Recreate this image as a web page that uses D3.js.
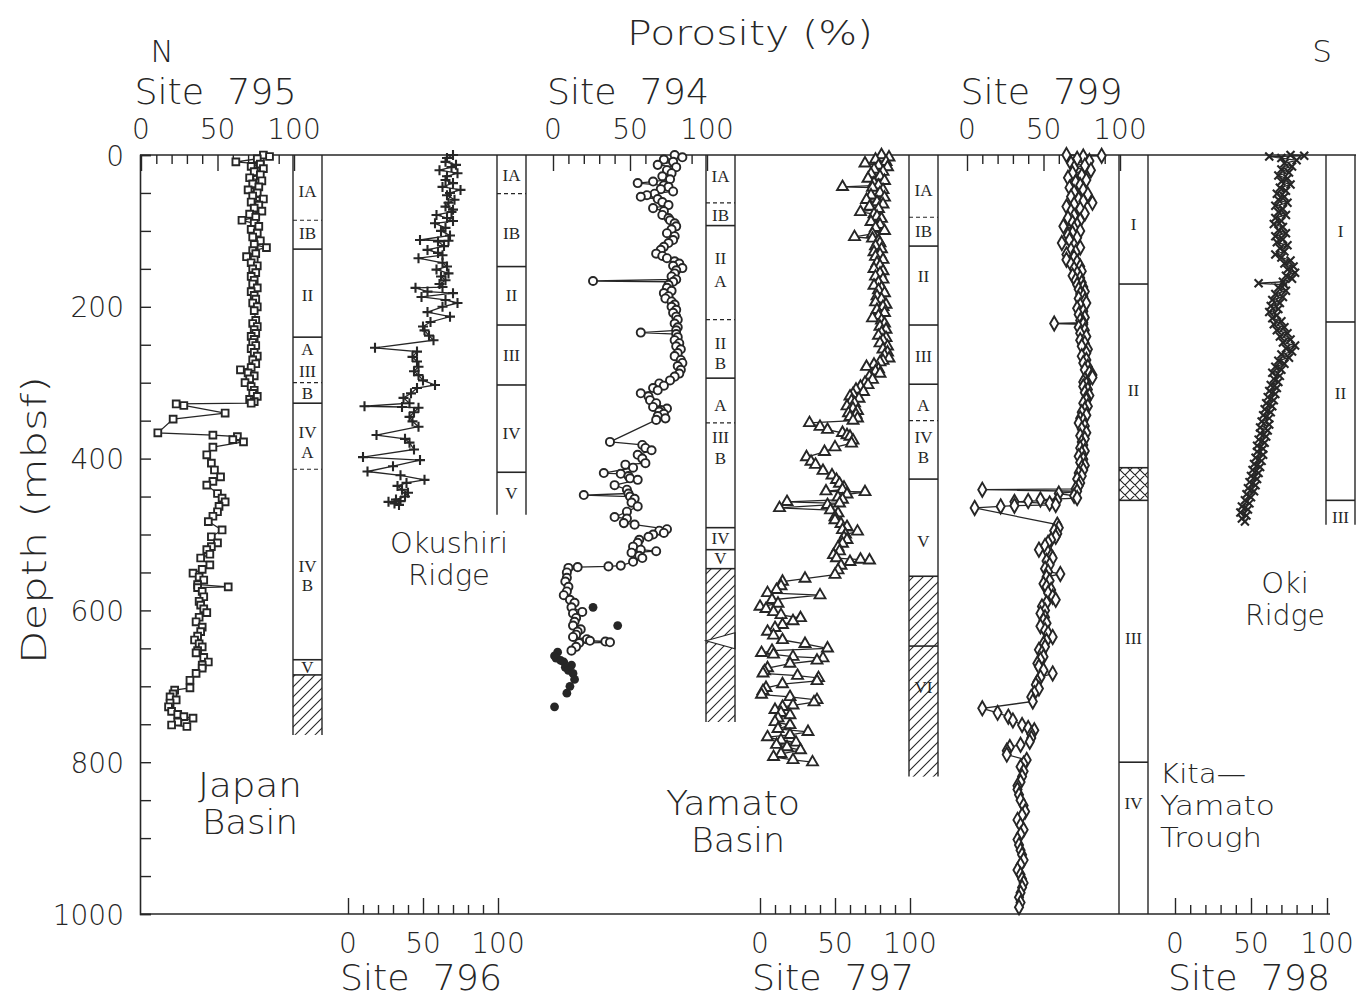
<!DOCTYPE html>
<html><head><meta charset="utf-8">
<script src="https://cdn.jsdelivr.net/npm/d3@7"></script>
<style>body{margin:0;background:#fff} text{white-space:pre}</style>
</head><body>
<svg id="c" width="1367" height="998"></svg>
<script>
// ---------------- DATA ----------------
const depthTickValues = [0,50,100,150,200,250,300,350,400,450,500,550,600,650,700,750,800,850,900,950,1000];
const depthLabelValues = [0,200,400,600,800,1000];
const porTickValues = [0,10,20,30,40,50,60,70,80,90,100];
const porLabelValues = [0,50,100];

// [depth mbsf, porosity %]
const site795 = [[0,80],[2,84],[5,76],[9,62],[12,78],[15,72],[18,80],[22,74],[26,78],[30,71],[34,79],[38,73],[42,77],[46,70],[50,76],[54,73],[58,80],[62,72],[66,77],[70,74],[74,79],[78,71],[82,75],[86,66],[90,74],[94,77],[98,72],[103,76],[108,73],[113,78],[118,74],[122,82],[126,73],[130,75],[134,69],[138,74],[142,72],[146,76],[150,73],[155,75],[160,72],[165,74],[170,73],[175,76],[180,72],[185,74],[190,75],[195,73],[200,76],[205,74],[218,75],[222,73],[226,76],[230,74],[235,75],[239,72],[243,74],[247,73],[251,75],[255,72],[260,74],[265,76],[270,73],[275,75],[280,72],[283,65],[287,70],[291,74],[295,71],[300,68],[305,72],[310,74],[314,73],[318,76],[322,71],[325,74],[327,72],[328,23],[330,28],[340,55],[348,21],[366,11],[369,47],[371,63],[375,60],[378,67],[385,47],[395,43],[406,46],[415,48],[424,52],[430,47],[435,43],[446,50],[452,53],[457,55],[463,51],[470,50],[476,47],[483,44],[494,53],[503,46],[511,50],[516,46],[520,43],[526,45],[531,39],[540,45],[546,40],[551,34],[556,38],[560,41],[566,37],[569,57],[570,37],[575,40],[582,41],[588,38],[593,39],[598,41],[603,43],[609,38],[615,36],[622,40],[628,39],[634,37],[639,35],[644,38],[648,40],[653,37],[656,36],[662,41],[668,44],[672,40],[676,40],[683,36],[692,32],[702,32],[705,22],[710,21],[714,19],[718,23],[722,19],[727,18],[733,20],[737,24],[740,28],[742,34],[747,24],[751,20],[753,30]];

const site796 = [[0,70],[4,66],[9,65],[13,72],[16,69],[20,61],[24,73],[28,66],[33,65],[37,70],[42,63],[46,75],[50,68],[53,66],[59,71],[63,67],[68,65],[72,70],[75,69],[79,59],[83,66],[87,70],[90,58],[96,65],[100,62],[106,68],[112,48],[113,67],[114,60],[120,64],[125,53],[129,60],[132,63],[136,47],[142,63],[147,66],[151,59],[156,67],[160,62],[165,65],[170,61],[174,63],[175,45],[180,53],[182,70],[187,49],[191,65],[195,73],[200,63],[207,53],[213,68],[220,55],[226,50],[231,51],[238,54],[244,57],[254,18],[259,46],[266,43],[272,46],[279,47],[285,44],[290,47],[297,50],[303,58],[307,46],[314,42],[320,37],[327,41],[331,11],[332,36],[333,47],[339,44],[345,41],[351,43],[358,47],[369,19],[374,38],[379,41],[388,44],[398,10],[402,48],[410,30],[417,13],[422,35],[428,51],[432,39],[436,33],[441,36],[445,40],[450,38],[454,32],[456,35],[457,27],[459,31],[461,34]];

const site794 = [[0,79],[3,84],[6,72],[9,78],[13,68],[16,80],[20,74],[24,77],[28,71],[32,76],[35,65],[37,55],[40,72],[42,75],[45,70],[48,78],[51,66],[53,61],[55,57],[58,68],[62,71],[66,75],[70,65],[74,72],[79,71],[83,75],[86,76],[90,79],[94,80],[98,77],[103,74],[107,79],[112,78],[116,75],[121,72],[125,70],[130,67],[133,71],[136,74],[140,79],[143,82],[146,78],[149,84],[152,80],[156,79],[160,77],[164,80],[166,26],[167,78],[171,75],[175,74],[179,77],[182,72],[186,75],[189,73],[193,77],[197,79],[200,77],[204,80],[208,78],[213,80],[217,81],[222,79],[227,81],[231,80],[234,57],[236,80],[240,81],[244,79],[248,82],[252,80],[256,83],[261,81],[265,79],[270,83],[274,84],[278,81],[283,83],[288,82],[292,79],[297,76],[301,69],[304,72],[307,65],[310,68],[314,57],[318,62],[323,63],[327,67],[332,65],[334,74],[336,70],[338,69],[341,72],[344,68],[347,73],[349,67],[378,37],[382,58],[386,60],[389,64],[395,55],[400,58],[406,60],[408,47],[412,52],[419,33],[420,44],[423,49],[426,50],[428,55],[435,40],[441,48],[446,49],[448,20],[450,50],[453,53],[458,51],[463,55],[470,48],[477,40],[479,48],[485,46],[487,53],[493,74],[495,69],[498,72],[500,65],[503,62],[507,56],[511,55],[516,52],[520,57],[522,67],[524,51],[528,56],[531,58],[536,52],[541,44],[542,36],[543,16],[544,10],[550,9],[557,9],[562,8],[569,10],[575,9],[580,7],[586,11],[590,14],[596,12],[602,19],[604,13],[610,15],[615,14],[620,13],[625,18],[628,16],[632,15],[635,13],[638,22],[640,24],[641,34],[642,37],[643,17],[648,15],[653,12]];
const site794Solid = [[596,26],[620,42],[655,3],[660,1],[663,2],[666,5],[668,7],[672,12],[675,8],[679,10],[683,13],[691,14],[700,11],[709,9],[727,1]];

const site797 = [[0,81],[3,86],[6,77],[9,84],[11,70],[14,79],[16,85],[19,76],[22,82],[25,74],[28,80],[31,72],[34,83],[37,76],[40,79],[42,55],[43,75],[46,82],[50,80],[53,74],[56,83],[59,71],[62,78],[65,82],[68,73],[71,79],[75,67],[78,76],[81,78],[84,81],[88,74],[92,80],[96,77],[100,83],[104,75],[108,63],[110,75],[113,79],[116,80],[120,77],[124,81],[128,76],[131,80],[134,77],[138,82],[142,78],[146,80],[150,76],[153,82],[156,80],[160,77],[164,82],[168,79],[172,76],[175,81],[178,79],[182,83],[186,78],[190,81],[194,77],[197,84],[200,82],[204,78],[208,83],[212,79],[215,75],[218,81],[222,83],[226,80],[230,84],[234,81],[238,79],[241,84],[244,82],[248,80],[252,85],[256,82],[260,85],[264,83],[268,86],[271,82],[273,80],[276,76],[279,71],[282,79],[285,77],[288,80],[292,73],[296,75],[300,70],[303,72],[305,67],[309,64],[312,69],[315,62],[318,60],[321,66],[324,61],[327,63],[331,58],[334,62],[337,65],[340,59],[342,64],[345,60],[347,65],[350,62],[353,33],[358,40],[362,45],[366,55],[369,58],[371,60],[376,62],[380,61],[385,50],[391,43],[398,31],[404,34],[408,37],[416,42],[422,48],[428,51],[433,53],[438,56],[441,55],[443,44],[444,70],[447,58],[451,52],[454,55],[457,18],[459,53],[461,45],[465,13],[468,47],[472,52],[477,50],[481,50],[486,54],[490,58],[494,55],[496,65],[500,57],[504,56],[507,58],[512,55],[517,52],[522,53],[527,49],[531,51],[533,67],[534,73],[536,60],[541,54],[547,52],[553,50],[558,30],[562,15],[568,14],[573,11],[577,5],[580,40],[586,8],[591,12],[595,0],[598,4],[602,9],[606,14],[610,27],[614,22],[619,15],[623,10],[628,5],[633,9],[639,15],[644,30],[650,45],[653,8],[656,1],[658,9],[661,22],[663,42],[666,38],[670,20],[676,5],[680,3],[683,2],[686,25],[689,39],[693,38],[697,15],[702,4],[706,2],[711,1],[714,20],[718,38],[721,36],[725,22],[727,15],[731,10],[735,14],[738,20],[742,12],[747,10],[751,20],[756,12],[760,32],[764,20],[767,5],[771,14],[774,24],[777,11],[780,18],[784,27],[789,14],[793,9],[797,22],[800,35]];

const site799 = [[0,65],[1,88],[2,76],[5,72],[8,80],[11,68],[14,77],[17,70],[20,81],[24,69],[27,75],[30,66],[33,78],[36,71],[40,74],[43,67],[46,76],[49,70],[52,79],[55,68],[58,73],[61,76],[63,82],[65,70],[68,65],[71,74],[74,68],[77,77],[80,70],[83,66],[86,74],[89,69],[92,72],[94,63],[97,70],[100,74],[103,69],[106,66],[109,72],[112,67],[116,62],[119,70],[122,74],[125,68],[128,71],[131,65],[135,70],[138,65],[141,72],[144,68],[147,74],[150,70],[153,75],[156,72],[159,69],[162,74],[165,71],[168,75],[171,72],[174,76],[177,73],[180,77],[183,74],[186,76],[189,73],[192,77],[195,78],[198,74],[202,72],[206,76],[210,73],[214,77],[218,74],[221,76],[222,57],[223,76],[227,73],[231,77],[235,74],[239,78],[244,74],[248,77],[252,75],[256,79],[261,78],[265,75],[270,78],[274,76],[279,79],[283,77],[287,80],[290,82],[293,82],[296,77],[299,76],[302,78],[305,76],[309,79],[313,77],[317,80],[320,78],[323,78],[327,76],[331,79],[335,77],[339,75],[343,78],[347,74],[350,76],[353,73],[357,77],[361,75],[366,78],[370,74],[374,77],[378,75],[382,76],[386,74],[390,77],[393,75],[397,73],[401,76],[405,74],[409,77],[412,75],[415,76],[419,73],[423,75],[427,72],[432,74],[436,73],[440,71],[441,10],[443,72],[446,60],[449,70],[452,72],[454,48],[455,59],[456,40],[457,31],[459,54],[461,58],[462,31],[463,22],[465,5],[487,59],[491,60],[495,57],[499,59],[503,58],[507,55],[511,53],[515,51],[520,47],[524,53],[528,55],[531,56],[535,52],[540,54],[545,51],[549,53],[552,61],[556,52],[561,54],[565,50],[569,52],[573,55],[577,53],[582,56],[586,58],[590,52],[595,49],[600,51],[604,48],[609,51],[613,50],[617,52],[621,48],[626,51],[630,53],[635,56],[640,52],[644,50],[648,51],[652,47],[656,49],[661,50],[665,48],[670,46],[674,47],[679,50],[683,56],[688,48],[694,46],[698,45],[703,47],[709,44],[714,42],[720,43],[729,10],[735,20],[740,27],[745,30],[751,36],[755,40],[758,44],[763,42],[768,42],[773,41],[777,35],[780,28],[785,26],[790,26],[797,39],[802,37],[806,35],[812,37],[819,36],[826,35],[831,33],[836,33],[843,34],[850,35],[857,37],[865,38],[870,36],[876,33],[883,35],[889,37],[895,35],[902,33],[909,34],[916,35],[922,36],[929,37],[935,35],[942,33],[948,35],[954,36],[959,37],[965,36],[972,35],[978,34],[985,35],[991,34]];

const site798 = [[0,76],[1,85],[2,62],[4,70],[7,80],[11,72],[15,77],[19,70],[23,75],[27,68],[31,74],[35,70],[39,76],[43,69],[47,73],[51,67],[55,72],[59,68],[63,74],[67,66],[71,71],[75,68],[79,73],[83,66],[87,70],[91,65],[95,71],[99,68],[103,73],[107,66],[111,71],[115,67],[119,74],[123,69],[127,72],[131,66],[135,70],[139,76],[143,72],[147,78],[151,74],[155,79],[159,73],[163,77],[167,71],[169,55],[171,72],[175,68],[179,73],[183,66],[187,71],[191,64],[195,69],[199,63],[203,68],[207,62],[211,67],[215,64],[219,70],[223,65],[227,72],[231,67],[235,74],[239,69],[243,76],[247,71],[251,79],[255,73],[259,77],[263,70],[267,75],[271,68],[275,72],[279,66],[283,70],[287,64],[291,69],[295,65],[299,68],[303,63],[307,67],[311,62],[315,66],[319,61],[323,65],[327,60],[331,64],[335,59],[339,63],[343,58],[347,62],[351,57],[355,62],[359,56],[363,61],[367,56],[371,60],[375,55],[379,59],[383,54],[387,58],[391,54],[395,58],[399,53],[403,57],[407,52],[411,56],[415,51],[419,55],[423,50],[427,54],[431,49],[435,53],[439,48],[443,52],[447,47],[451,50],[455,46],[459,49],[463,44],[467,48],[471,43],[475,47],[479,44],[483,46]];

// Lithologic units: boundaries [depth, isSubunit]
const units795 = [[86,true],[124,false],[240,false],[300,true],[327,false],[414,true],[665,false],[685,false]];
const labels795 = [["IA",47],["IB",103],["II",184],["A",256],["III",285],["B",313],["IV",365],["A",391],["IV",541],["B",567],["V",675]];
const units796 = [[51,true],[147,false],[224,false],[303,false],[418,false]];
const labels796 = [["IA",26],["IB",103],["II",184],["III",264],["IV",366],["V",445]];
const units794 = [[63,true],[93,false],[217,true],[294,false],[353,true],[491,false],[520,false],[545,false]];
const labels794 = [["IA",28],["IB",79],["II",136],["A",166],["II",248],["B",274],["A",329],["III",372],["B",399],["IV",505],["V",531]];
const units797 = [[82,true],[120,false],[224,false],[302,false],[350,true],[427,false],[555,false],[647,false]];
const labels797 = [["IA",46],["IB",100],["II",159],["III",265],["A",329],["IV",372],["B",398],["V",509],["VI",701]];
const units799 = [[170,false],[412,false],[455,false],[800,false]];
const labels799 = [["I",91],["II",310],["III",636],["IV",854]];
const units798 = [[220,false],[455,false]];
const labels798 = [["I",100],["II",314],["III",477]];

// ---------------- LAYOUT ----------------
const svg = d3.select("#c");
const ink = "#262626";
const sans = "'DejaVu Sans', sans-serif";
const serif = "'Liberation Serif', 'DejaVu Serif', serif";
const y = d3.scaleLinear().domain([0,1000]).range([155,914]);
const top0 = 155, bot0 = 914;

const defs = svg.append("defs");
const hp = defs.append("pattern").attr("id","hatch").attr("patternUnits","userSpaceOnUse").attr("width",10).attr("height",10);
hp.append("path").attr("d","M-2,2 L2,-2 M0,10 L10,0 M8,12 L12,8").attr("stroke",ink).attr("stroke-width",1.1);
const xp = defs.append("pattern").attr("id","xhatch").attr("patternUnits","userSpaceOnUse").attr("width",10).attr("height",10);
xp.append("path").attr("d","M-2,2 L2,-2 M0,10 L10,0 M8,12 L12,8 M-2,8 L2,12 M0,0 L10,10 M8,-2 L12,2").attr("stroke",ink).attr("stroke-width",1.1);

// frame
svg.append("line").attr("x1",140).attr("x2",1356).attr("y1",top0).attr("y2",top0).attr("stroke",ink).attr("stroke-width",1.6);
svg.append("line").attr("x1",140).attr("x2",1330).attr("y1",bot0).attr("y2",bot0).attr("stroke",ink).attr("stroke-width",1.6);

// left depth axis
const ax = svg.append("g").attr("transform","translate(140,0)")
  .call(d3.axisLeft(y).tickValues(depthTickValues).tickSize(-11).tickPadding(16)
     .tickFormat(d => depthLabelValues.includes(d) ? d : ""));
ax.select(".domain").attr("stroke",ink).attr("stroke-width",1.6);
ax.selectAll(".tick line").attr("stroke",ink).attr("stroke-width",1.4);
ax.selectAll(".tick text").attr("font-family",sans).attr("font-weight",300).attr("font-size",28).attr("fill",ink).attr("dy","0.36em");

svg.append("text").attr("transform","translate(46,520) rotate(-90)").attr("text-anchor","middle")
  .attr("font-family",sans).attr("font-weight",300).attr("font-size",34).attr("fill",ink)
  .attr("textLength",288).attr("lengthAdjust","spacingAndGlyphs").text("Depth (mbsf)");

const sites = [
  {name:"Site  795", data:site795, x0:141, x1:294, side:"top", colBottom:764, units:units795, labels:labels795, hatch:[685,764], marker:"square"},
  {name:"Site  796", data:site796, x0:348, x1:498, side:"bottom", colBottom:474, units:units796, labels:labels796, marker:"plus"},
  {name:"Site  794", data:site794, x0:553, x1:707, side:"top", colBottom:747, units:units794, labels:labels794, hatch:[545,747], wedge:640, marker:"circle"},
  {name:"Site  797", data:site797, x0:760, x1:910, side:"bottom", colBottom:819, units:units797, labels:labels797, hatch:[555,819], marker:"triangle"},
  {name:"Site  799", data:site799, x0:967, x1:1120, side:"top", colBottom:1000, units:units799, labels:labels799, xhatch:[412,455], marker:"diamond"},
  {name:"Site  798", data:site798, x0:1175, x1:1327, side:"bottom", colBottom:487, units:units798, labels:labels798, marker:"x"}
];

const markerPath = {
  square: d3.symbol(d3.symbolSquare, 46)(),
  circle: d3.symbol(d3.symbolCircle, 52)(),
  triangle: d3.symbol(d3.symbolTriangle, 52)(),
  diamond: d3.symbol(d3.symbolDiamond, 58)(),
  plus: "M-5,0H5M0,-5V5",
  x: "M-4,-4L4,4M-4,4L4,-4"
};

sites.forEach(s => {
  const x = d3.scaleLinear().domain([0,100]).range([s.x0, s.x1]);
  const cx0 = s.x1 - 1, cx1 = s.x1 + 28;
  const g = svg.append("g");
  const axisY = s.side === "top" ? top0 : bot0;
  const axFn = s.side === "top" ? d3.axisBottom(x) : d3.axisTop(x);
  const pa = g.append("g").attr("transform",`translate(0,${axisY})`)
    .call(axFn.tickValues(porTickValues).tickSize(9).tickFormat(""));
  pa.select(".domain").remove();
  pa.selectAll(".tick line").attr("stroke",ink).attr("stroke-width",1.4)
    .attr("y2", d => (s.side === "top" ? 1 : -1) * (d % 50 === 0 ? 16 : 9));
  const lblY = s.side === "top" ? 139 : 953;
  g.selectAll(".pl").data(porLabelValues).join("text")
    .attr("x", d => x(d)).attr("y", lblY).attr("text-anchor","middle")
    .attr("font-family",sans).attr("font-weight",300).attr("font-size",28).attr("fill",ink).text(d => d);
  g.append("text").attr("x",(s.x0+s.x1)/2 - 2).attr("y", s.side === "top" ? 104 : 990).attr("text-anchor","middle")
    .attr("font-family",sans).attr("font-weight",300).attr("font-size",35).attr("fill",ink)
    .attr("textLength",162).attr("lengthAdjust","spacingAndGlyphs").text(s.name);

  const col = g.append("g");
  if (s.hatch) col.append("rect").attr("x",cx0).attr("width",cx1-cx0).attr("y",y(s.hatch[0])).attr("height",y(s.hatch[1])-y(s.hatch[0])).attr("fill","url(#hatch)");
  if (s.xhatch) col.append("rect").attr("x",cx0).attr("width",cx1-cx0).attr("y",y(s.xhatch[0])).attr("height",y(s.xhatch[1])-y(s.xhatch[0])).attr("fill","url(#xhatch)");
  if (s.wedge) col.append("path").attr("d",`M${cx0},${y(s.wedge)} L${cx1},${y(s.wedge)-8} L${cx1},${y(s.wedge)+8} Z`).attr("fill","#fff").attr("stroke",ink).attr("stroke-width",1.2);
  col.append("line").attr("x1",cx0).attr("x2",cx0).attr("y1",top0).attr("y2",y(s.colBottom)).attr("stroke",ink).attr("stroke-width",1.4);
  col.append("line").attr("x1",cx1).attr("x2",cx1).attr("y1",top0).attr("y2",y(s.colBottom)).attr("stroke",ink).attr("stroke-width",1.4);
  col.selectAll(".ub").data(s.units).join("line")
    .attr("x1",cx0).attr("x2",cx1).attr("y1",d=>y(d[0])).attr("y2",d=>y(d[0]))
    .attr("stroke",ink).attr("stroke-width",d=>d[1]?1.2:1.6).attr("stroke-dasharray",d=>d[1]?"4,3":null);
  col.selectAll(".ul").data(s.labels).join("text")
    .attr("x",(cx0+cx1)/2).attr("y",d=>y(d[1])).attr("dy","0.35em").attr("text-anchor","middle")
    .attr("font-family",serif).attr("font-size",17).attr("fill",ink).text(d=>d[0]);

  const line = d3.line().x(d => x(d[1])).y(d => y(d[0]));
  g.append("path").attr("d", line(s.data)).attr("fill","none").attr("stroke",ink).attr("stroke-width",1.3);
  const open = !(s.marker === "plus" || s.marker === "x");
  g.selectAll(".m").data(s.data).join("path")
    .attr("transform", d => `translate(${x(d[1])},${y(d[0])})`)
    .attr("d", markerPath[s.marker])
    .attr("fill", open ? "#fff" : "none").attr("stroke", ink).attr("stroke-width", open ? 1.9 : 2.1);
  if (s.marker === "circle") {
    g.selectAll(".ms").data(site794Solid).join("circle")
      .attr("cx", d => x(d[1])).attr("cy", d => y(d[0])).attr("r",4.4).attr("fill",ink);
  }
});

const T = (t, xx, yy, size, anchor, len) => {
  const el = svg.append("text").attr("x",xx).attr("y",yy).attr("text-anchor",anchor||"middle")
    .attr("font-family",sans).attr("font-weight",300).attr("font-size",size).attr("fill",ink).text(t);
  if (len) el.attr("textLength",len).attr("lengthAdjust","spacingAndGlyphs");
  return el;
};
T("Porosity (%)", 750, 45, 33, "middle", 246);
T("N", 162, 62, 31);
T("S", 1322, 62, 31);
T("Japan", 250, 797, 33, "middle", 104); T("Basin", 250, 834, 33, "middle", 96);
T("Okushiri", 449, 553, 29, "middle", 118); T("Ridge", 449, 585, 29);
T("Yamato", 733, 815, 33, "middle", 134); T("Basin", 738, 852, 33, "middle", 94);
T("Kita\u2014", 1160, 783, 27, "start", 86); T("Yamato", 1160, 815, 27, "start", 115); T("Trough", 1160, 847, 27, "start", 102);
T("Oki", 1285, 593, 29); T("Ridge", 1285, 625, 29, "middle", 80);
</script>
</body></html>
